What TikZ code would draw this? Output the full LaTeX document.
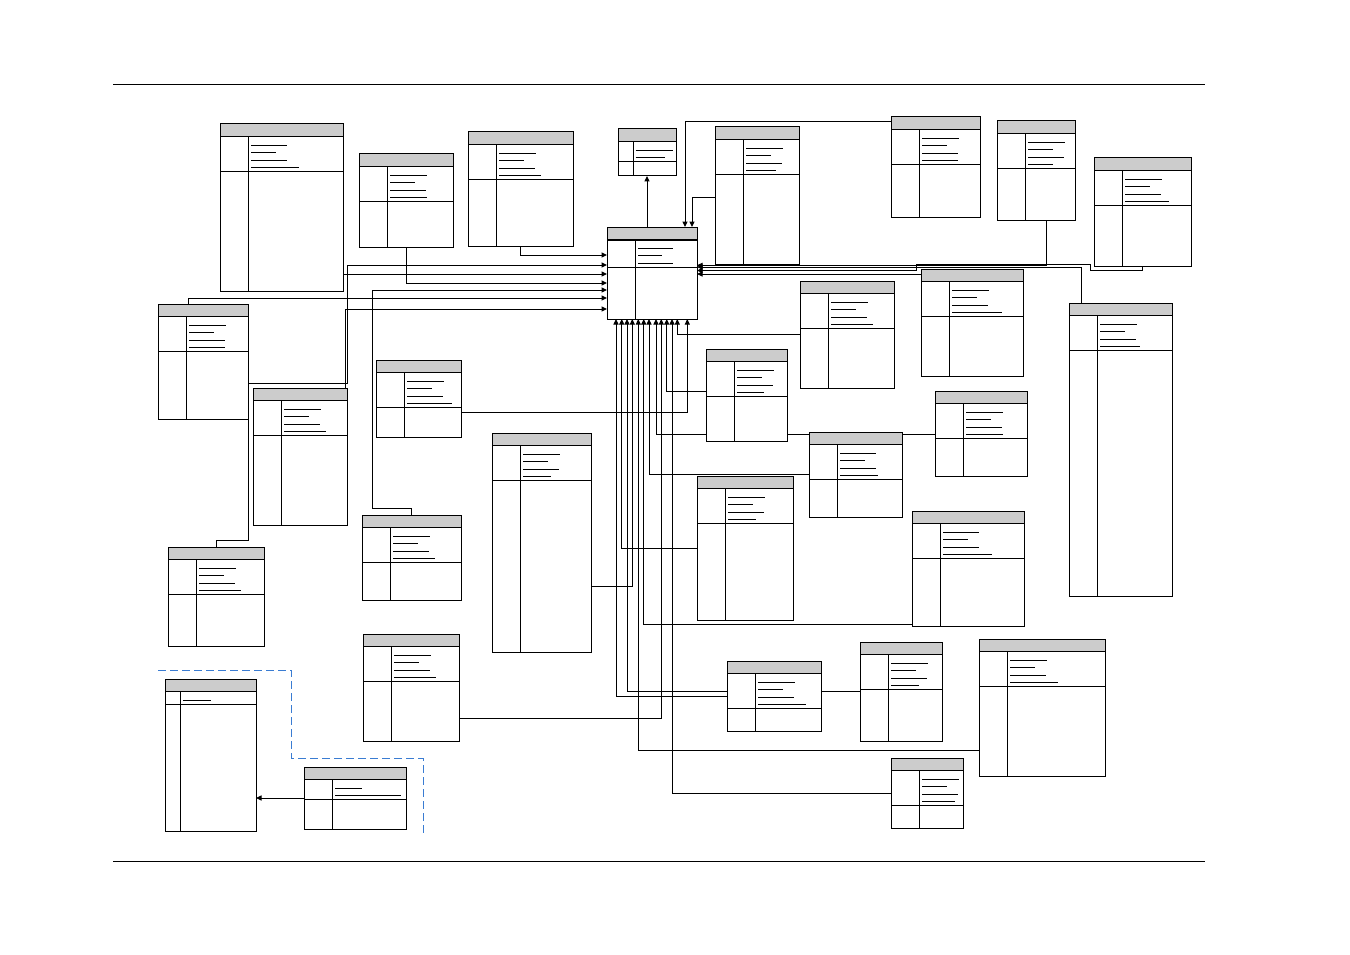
\documentclass[tikz,border=0pt]{standalone}
\usetikzlibrary{arrows.meta}

\definecolor{azul}{RGB}{58,124,210}

% one table of the schema: header, key part, left column and placeholder lines
\newcommand{\entidad}[8][28.5]{%
  \fill[cabecera] (#3,#4) rectangle ++(#5,12.5);
  \draw (#3,#4+12.5) -- ++(#5,0);
  \draw (#3,#4+17.5+7.5*#7) -- ++(#5,0);
  \draw (#3+#1,#4+12.5) -- (#3+#1,#4+#6);
  \foreach \l [count=\i] in {#8}
    \draw (#3+#1+2.5,#4+13.7+7.5*\i) -- ++(\l,0);
  \node[tabla, minimum width=#5pt, minimum height=#6pt] (#2) at (#3,#4) {};
}

\begin{document}
\begin{tikzpicture}[x=1pt, y=-1pt, line width=1pt,
        tabla/.style={draw, anchor=north west, inner sep=0pt, outer sep=0pt},
        cabecera/.style={fill=black!20},
        flecha/.style={-{Triangle[length=5.5pt,width=5pt]}},
        limite/.style={azul, dash pattern=on 8pt off 4pt}]

        \useasboundingbox (0,0) rectangle (1350,955);

        % page rules
        \draw (113,85) -- (1205,85);
        \draw (113,861) -- (1205,861);

        % tables
        \entidad{central}{607}{227}{90}{92}{3}{35,24,35}
        \draw[line width=2pt] ([yshift=-12.5pt]central.north west) -- ([yshift=-12.5pt]central.north east);
        \entidad[15]{ent0}{618}{129}{58}{47}{2}{37,29}
        \entidad{ent1}{220}{124}{123}{167}{4}{36,25,36,48}
        \entidad{ent2}{359}{154}{94}{93}{4}{37,25,36,37}
        \entidad{ent3}{468}{132}{105}{114}{4}{37,25,36,42}
        \entidad{ent4}{715}{127}{84}{137}{4}{37,25,36,30}
        \entidad{ent5}{891}{117}{89}{100}{4}{37,25,36,36}
        \entidad{ent6}{997}{121}{78}{99}{4}{37,25,36,25}
        \entidad{ent7}{1094}{158}{97}{108}{4}{37,25,36,44}
        \entidad{ent8}{158}{304}{90}{115}{4}{37,25,36,36}
        \entidad{ent9}{253}{388}{94}{137}{4}{37,25,36,42}
        \entidad{ent10}{168}{547}{96}{99}{4}{37,25,36,42}
        \entidad{ent11}{376}{360}{85}{77}{4}{37,25,36,45}
        \entidad{ent12}{362}{515}{99}{85}{4}{37,25,36,42}
        \entidad{ent13}{492}{433}{99}{219}{4}{37,25,36,28}
        \entidad{ent14}{363}{634}{96}{107}{4}{37,25,36,42}
        \entidad[15]{ent15}{165}{679}{91}{152}{1}{28}
        \entidad{ent16}{304}{767}{102}{62}{2}{27,66}
        \entidad{ent17}{706}{349}{81}{92}{4}{37,25,36,27}
        \entidad{ent18}{800}{281}{94}{107}{4}{37,25,36,42}
        \entidad{ent19}{921}{269}{102}{107}{4}{37,25,36,50}
        \entidad{ent20}{1069}{303}{103}{293}{4}{37,25,36,40}
        \entidad{ent21}{935}{391}{92}{85}{4}{37,25,36,37}
        \entidad{ent22}{809}{432}{93}{85}{4}{36,25,36,38}
        \entidad{ent23}{912}{511}{112}{115}{4}{36,25,36,49}
        \entidad{ent24}{697}{476}{96}{144}{4}{37,25,36,28}
        \entidad{ent25}{727}{661}{94}{70}{4}{37,25,36,48}
        \entidad{ent26}{860}{642}{82}{99}{4}{37,25,36,28}
        \entidad{ent27}{979}{639}{126}{137}{4}{37,25,36,48}
        \entidad{ent28}{891}{758}{72}{70}{4}{37,25,36,33}

        % links into the central table, left side
        \draw[flecha] (ent3.south) |- (central.west |- 0,255);
        \draw[flecha] (ent10.north) |- (248,540) |- (347,383) |- (central.west |- 0,265);
        \draw[flecha] (ent1.east |- 0,274) -- (central.west |- 0,274);
        \draw[flecha] (ent2.south) |- (central.west |- 0,283);
        \draw[flecha] (ent12.north) |- (372,508) |- (central.west |- 0,290);
        \draw[flecha] (ent8.north -| 188,0) |- (central.west |- 0,298);
        \draw[flecha] (ent9.north -| 345,0) |- (central.west |- 0,309);

        % top
        \draw[flecha] (ent5.west |- 0,122) -| (central.north -| 685,0);
        \draw[flecha] (ent4.west |- 0,197) -| (central.north -| 692,0);
        \draw[flecha] (central.north -| ent0.south) -- (ent0.south);

        % right side
        \draw[flecha] (ent6.south -| 1046,0) |- (central.east |- 0,265.3);
        \draw[flecha] (ent20.north -| 1081,0) |- (central.east |- 0,267);
        \draw[flecha] (ent7.south) |- (1090,270.5) |- (916.5,264.7) |- (central.east |- 0,270.5);
        \draw[flecha] (ent19.west |- 0,274) -- (central.east |- 0,274);

        % bottom
        \draw[flecha] (ent25.west |- 0,696) -| (central.south -| 616,0);
        \draw[flecha] (ent24.west |- 0,548) -| (central.south -| 621.7,0);
        \draw[flecha] (ent25.west |- 0,691) -| (central.south -| 627,0);
        \draw[flecha] (ent13.east |- 0,586) -| (central.south -| 632.3,0);
        \draw[flecha] (ent27.west |- 0,750) -| (central.south -| 638.3,0);
        \draw[flecha] (ent23.west |- 0,624) -| (central.south -| 643.7,0);
        \draw[flecha] (ent22.west |- 0,474) -| (central.south -| 649,0);
        \draw[flecha] (ent17.west |- 0,434) -| (central.south -| 656,0);
        \draw[flecha] (ent14.east |- 0,718) -| (central.south -| 661.3,0);
        \draw[flecha] (ent17.west |- 0,391) -| (central.south -| 666.7,0);
        \draw[flecha] (ent28.west |- 0,793) -| (central.south -| 672,0);
        \draw[flecha] (ent18.west |- 0,334) -| (central.south -| 677.3,0);
        \draw[flecha] (ent11.east |- 0,412) -| (central.south -| 687.3,0);

        % other links
        \draw (ent17.east |- 0,434) -- (ent22.west |- 0,434);
        \draw (ent22.east |- 0,434) -- (ent21.west |- 0,434);
        \draw (ent25.east |- 0,691) -- (ent26.west |- 0,691);
        \draw[flecha] (ent16.west |- 0,798) -- (ent15.east |- 0,798);

        % boundary
        \draw[limite] (158,670) -- (291,670) -- (291,758) -- (423,758) -- (423,835);

    \end{tikzpicture}
\end{document}
